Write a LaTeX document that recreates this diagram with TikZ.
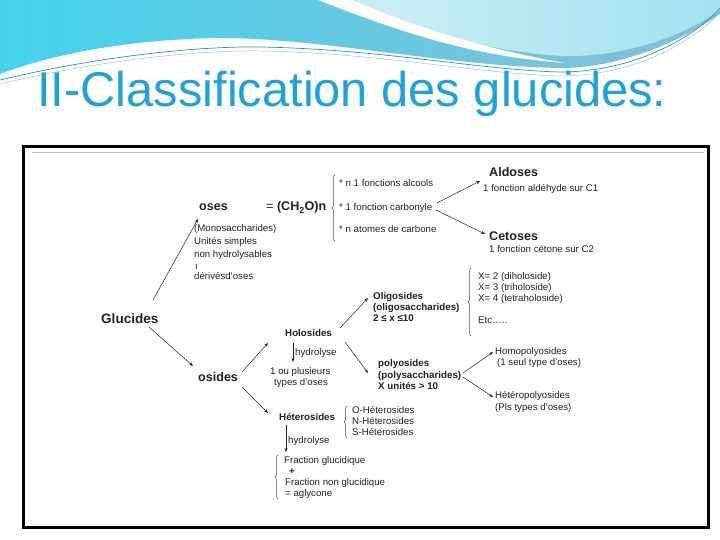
\documentclass[tikz,border=0pt]{standalone}
\usepackage{fontspec}
\setmainfont{Liberation Sans}
\usetikzlibrary{arrows.meta,decorations.pathreplacing,calc}
\definecolor{titleblue}{HTML}{1CA3DA}
\definecolor{wavecyan}{HTML}{45D3EC}
\definecolor{wavesteel}{HTML}{86BED6}
\definecolor{wavepale}{HTML}{B8E7F0}
\definecolor{waveline}{HTML}{2C92B4}
\definecolor{ink}{HTML}{222222}
\tikzset{
  sm/.style={font=\fontsize{9.7}{11}\selectfont, inner sep=0pt, anchor=base west, text=ink},
  smb/.style={sm, font=\fontsize{9.8}{11}\selectfont\bfseries},
  hd/.style={sm, font=\fontsize{12.6}{14}\selectfont\bfseries},
  arr/.style={draw=ink, line width=0.5bp, -{Stealth[length=4bp,width=3bp]}},
  brc/.style={draw=ink!80, line width=0.5bp, decorate, decoration={brace, amplitude=3bp}},
}
\begin{document}
\begin{tikzpicture}[x=1bp,y=-1bp]
\useasboundingbox (0,0) rectangle (720,540);
\fill[white] (0,0) rectangle (720,540);
% header waves
\shade[left color=wavecyan, right color=wavesteel]
  (0,0) -- (720,0) -- (720,14) .. controls (680,42) and (620,68) .. (560,68)
  .. controls (450,66) and (330,40) .. (230,38)
  .. controls (130,38) and (50,55) .. (0,74) -- cycle;
\shade[left color=wavepale!70!white, right color=wavepale!80!wavecyan]
  (345,0) .. controls (420,30) and (480,50) .. (560,56)
  .. controls (630,58) and (690,32) .. (720,10) -- (720,0) -- cycle;
\fill[white] (318,0) .. controls (400,32) and (470,56) .. (565,63)
  .. controls (480,48) and (410,25) .. (352,0) -- cycle;
\draw[waveline, line width=0.7bp] (0,80) .. controls (100,56) and (200,46) .. (260,47)
  .. controls (380,49) and (480,70) .. (560,72) .. controls (640,72) and (700,32) .. (720,8);
\draw[waveline!50, line width=0.5bp] (0,84) .. controls (100,60) and (200,50) .. (260,51)
  .. controls (380,53) and (480,74) .. (560,76) .. controls (640,76) and (700,36) .. (720,12);
% title
\node[anchor=base west, inner sep=0pt, text=titleblue, font=\fontsize{49}{55}\selectfont] (title) at (37,107) {II-Classification des glucides:};
% frame
\draw[black, line width=3bp] (23.5,146.5) rectangle (708.5,527.5);
\draw[gray!55, line width=1.5bp] (32,152.5) -- (704,152.5);
% nodes
\node[hd, font=\fontsize{13.6}{15}\selectfont\bfseries] (gluc) at (101,323) {Glucides};
\node[hd] (oses) at (199,211) {oses};
\node[hd] (formula) at (266,211) {{\mdseries =} (CH\textsubscript{2}O)n};
\node[sm] (alc) at (339,186.5) {* n 1 fonctions alcools};
\node[sm] (carb) at (339,210.5) {* 1 fonction carbonyle};
\node[sm] (atom) at (339,232.5) {* n atomes de carbone};
\node[hd] (ald) at (489,176.5) {Aldoses};
\node[sm] (aldtxt) at (483,191.5) {1 fonction aldéhyde sur C1};
\node[hd] (cet) at (489,240.5) {Cetoses};
\node[sm] (cettxt) at (489,252.5) {1 fonction cétone sur C2};
\node[sm] (mono) at (194,231.5) {(Monosaccharides)};
\node[sm] (unit) at (194,244.5) {Unités simples};
\node[sm] (nonh) at (194,257.5) {non hydrolysables};
\node[sm] (tick) at (195,269.5) {ı};
\node[sm] (deriv) at (194,279.5) {dérivésd'oses};
\node[hd] (osides) at (198,381) {osides};
\node[smb] (oligo) at (373,299) {Oligosides};
\node[smb] (oligob) at (373,310.5) {(oligosaccharides)};
\node[smb] (oligoc) at (373,321.5) {2 ≤ x ≤10};
\node[sm] (x2) at (478,279.5) {X= 2 (diholoside)};
\node[sm] (x3) at (478,290.5) {X= 3 (triholoside)};
\node[sm] (x4) at (478,301.5) {X= 4 (tetraholoside)};
\node[sm] (etc) at (478,323.5) {Etc…..};
\node[smb] (holo) at (285,336.5) {Holosides};
\node[sm] (hyd1) at (295,355.5) {hydrolyse};
\node[sm] (plus) at (270,374.5) {1 ou plusieurs};
\node[sm] (types) at (274,385.5) {types d'oses};
\node[smb] (poly) at (378,366.5) {polyosides};
\node[smb] (polyb) at (378,378.5) {(polysaccharides)};
\node[smb] (polyc) at (378,389.5) {X unités > 10};
\node[sm] (homo) at (495,354.5) {Homopolyosides};
\node[sm] (homob) at (497,365.5) {(1 seul type d'oses)};
\node[sm] (hetp) at (495,398.5) {Hétéropolyosides};
\node[sm] (hetpb) at (495,410.5) {(Pls types d'oses)};
\node[smb] (hetero) at (279,420.5) {Héterosides};
\node[sm] (oh) at (352,413.5) {O-Héterosides};
\node[sm] (nh) at (352,424.5) {N-Héterosides};
\node[sm] (sh) at (352,435.5) {S-Héterosides};
\node[sm] (hyd2) at (288,443.5) {hydrolyse};
\node[sm] (fracg) at (284,463.5) {Fraction glucidique};
\node[smb] (plus2) at (289,474.5) {+};
\node[sm] (fracn) at (285,485.5) {Fraction non glucidique};
\node[sm] (agly) at (285,496.5) {= aglycone};
% braces
\draw[brc] (335,241) -- (335,175);
\draw[brc] (471,336) -- (471,268);
\draw[brc] (347,438) -- (347,406);
\draw[brc] (278,499) -- (278,455);
% arrows
\draw[arr] ($(gluc.base west)+(52,-23)$) -- ($(oses.base west)+(-1,8)$);
\draw[arr] ($(gluc.base west)+(48,4)$) -- ($(osides.base west)+(-5,-15)$);
\draw[arr] ($(carb.base west)+(98,-7.5)$) -- ($(ald.base west)+(-9,4.5)$);
\draw[arr] ($(carb.base west)+(97,-0.5)$) -- ($(cet.base west)+(-4,-6.5)$);
\draw[arr] ($(osides.base west)+(44,-9)$) -- ($(holo.base west)+(-17,6.5)$);
\draw[arr] ($(osides.base west)+(44,6)$) -- ($(hetero.base west)+(-11,-7.5)$);
\draw[arr] ($(holo.base west)+(8,6.5)$) -- ($(plus.base west)+(23,-12.5)$);
\draw[arr] ($(holo.base west)+(55,-8.5)$) -- ($(oligo.base west)+(-5,-1)$);
\draw[arr] ($(holo.base west)+(60,5.5)$) -- ($(poly.base west)+(-10,6.5)$);
\draw[arr] ($(polyb.base west)+(85,-5.5)$) -- ($(homo.base west)+(-2,-2.5)$);
\draw[arr] ($(polyb.base west)+(85,-1.5)$) -- ($(hetp.base west)+(-2,-1.5)$);
\draw[arr] ($(hetero.base west)+(7,4.5)$) -- ($(fracg.base west)+(2,-11.5)$);
\end{tikzpicture}
\end{document}
